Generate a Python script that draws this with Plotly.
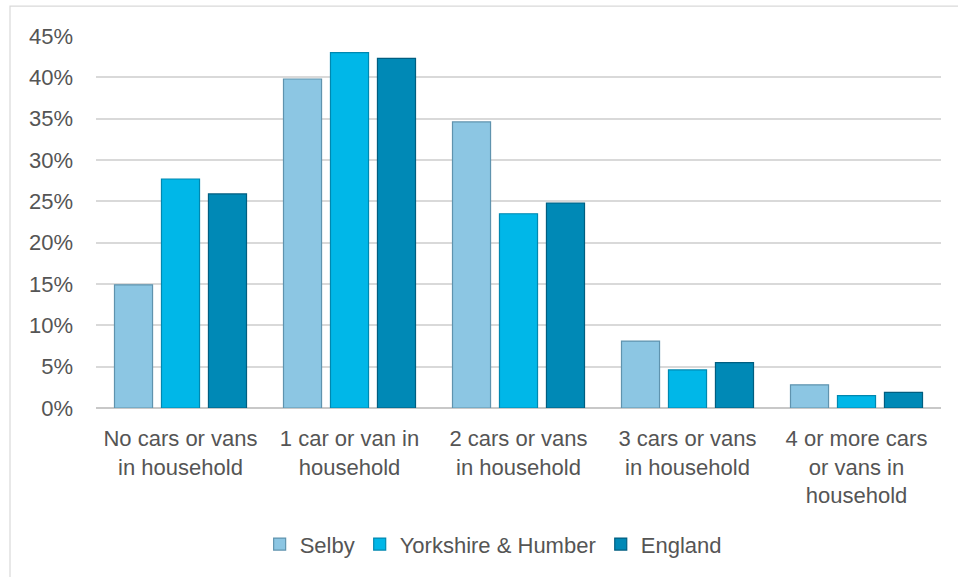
import plotly.graph_objects as go

categories = [
    "No cars or vans<br>in household",
    "1 car or van in<br>household",
    "2 cars or vans<br>in household",
    "3 cars or vans<br>in household",
    "4 or more cars<br>or vans in<br>household",
]
selby = [0.149, 0.398, 0.346, 0.081, 0.028]
yorkshire = [0.277, 0.430, 0.235, 0.046, 0.015]
england = [0.259, 0.423, 0.248, 0.055, 0.019]

series = [
    ("Selby", selby, "#8CC6E3", "#5F93AE"),
    ("Yorkshire & Humber", yorkshire, "#00B7E8", "#0088B0"),
    ("England", england, "#0089B6", "#005E80"),
]

FONT = "Liberation Sans, Arial, sans-serif"
TEXT = "#555555"

fig = go.Figure()
for name, vals, fill, edge in series:
    fig.add_trace(go.Bar(
        name=name, x=categories, y=vals,
        marker=dict(color=fill, line=dict(color=edge, width=1.2)),
    ))

W, H = 958, 577
L, R, T, B = 96, 17, 36, 167
pw, ph = W - L - R, H - T - B

fig.update_layout(
    width=W, height=H,
    margin=dict(l=L, r=R, t=T, b=B),
    paper_bgcolor="white", plot_bgcolor="white",
    barmode="group", bargap=0.166, bargroupgap=0.19,
    font=dict(family=FONT, size=22, color=TEXT),
    showlegend=True,
    legend=dict(
        orientation="h", x=0.47, xanchor="center",
        y=-(547 - (T + ph)) / ph, yanchor="middle",
        font=dict(size=22, color=TEXT), itemwidth=30,
        traceorder="normal",
    ),
    xaxis=dict(
        showgrid=False, showline=False, ticks="",
        tickfont=dict(size=22, color=TEXT), tickangle=0,
        ticklabelstandoff=15,
    ),
    yaxis=dict(
        range=[0, 0.45], dtick=0.05, tickformat=".0%",
        showgrid=True, gridcolor="#D9D9D9", gridwidth=1.5,
        zeroline=True, zerolinecolor="#C8C8C8", zerolinewidth=2,
        showline=False, ticks="",
        tickfont=dict(size=22, color=TEXT),
        ticklabelstandoff=22,
    ),
    shapes=[dict(
        type="rect", xref="paper", yref="paper",
        x0=(10 - L) / pw, x1=(W + 20 - L) / pw,
        y0=-(H + 20 - T - ph) / ph, y1=(T + ph - 6) / ph,
        line=dict(color="#D9D9D9", width=1.2), fillcolor="rgba(0,0,0,0)",
        layer="below",
    )],
)

fig.write_html("out.html")
